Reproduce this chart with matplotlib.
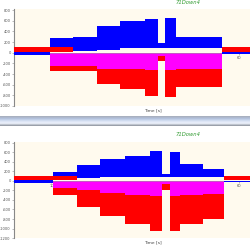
import matplotlib
matplotlib.use("Agg")
import matplotlib.pyplot as plt
import numpy as np

# segment edges (s) and envelope levels per segment
top_edges = [0, 9.6, 15.8, 22.2, 28.3, 35.0, 38.4, 40.3, 43.3, 55.5, 63]
top_blue_hi = [20, 270, 290, 500, 590, 640, 175, 650, 300, 10]
top_blue_lo = [-50, 40, 40, 60, 80, 80, 80, 80, 80, -20]
top_mag_lo = [-10, -250, -250, -300, -300, -330, -60, -330, -300, -10]
top_red_lo = [0, -340, -340, -580, -680, -810, -150, -830, -640, 0]
top_red_hi = [100, 100, 100, 0, 0, 0, 0, 0, 0, 100]

bot_edges = [0, 10.4, 16.8, 23.0, 29.6, 36.3, 39.5, 41.7, 44.3, 50.5, 56.1, 63]
bot_blue_hi = [20, 195, 345, 465, 520, 640, 150, 610, 360, 250, 10]
bot_blue_lo = [-40, 30, 60, 90, 90, 90, 90, 90, 90, 90, -20]
bot_mag_lo = [-10, -150, -200, -250, -300, -310, -60, -310, -300, -280, -10]
bot_red_lo = [0, -290, -545, -730, -900, -1050, -200, -1050, -900, -800, 0]
bot_red_hi = [100, 100, 100, 0, 0, 0, 0, 0, 0, 0, 100]

title = "71Down4"
xlabel = "Time [s]"
top_yticks = [800, 600, 400, 200, 0, -200, -400, -600, -800, -1000]
bot_yticks = [800, 600, 400, 200, 0, -200, -400, -600, -800, -1000, -1200]
xticks = [10, 20, 30, 40, 50, 60]


def step(vals):
    return list(vals) + [vals[-1]]


def draw(ax, edges, blue_hi, blue_lo, mag_lo, red_lo, red_hi, yticks):
    ax.set_facecolor("#fffaee")
    z = np.zeros(len(edges))
    ax.fill_between(edges, z, step(red_lo), step="post", color="#ff0000", lw=0, zorder=1)
    ax.fill_between(edges, z, step(mag_lo), step="post", color="#ff00ff", lw=0, zorder=2)
    ax.fill_between(edges, step(blue_lo), step(blue_hi), step="post", color="#0000ff", lw=0, zorder=3)
    ax.fill_between(edges, np.full(len(edges), 20), step(red_hi), step="post",
                    where=np.array(step(red_hi)) > 20, color="#ff0000", lw=0, zorder=4)
    ax.set_xlim(0, 63)
    ax.set_ylim(yticks[-1], yticks[0] + 20)
    ax.set_yticks(yticks)
    ax.set_yticklabels([str(v) for v in yticks])
    ax.set_xticks(xticks)
    ax.set_xticklabels([str(v) for v in xticks])
    ax.set_axisbelow(True)
    for s in ["top", "right"]:
        ax.spines[s].set_visible(False)
    ax.spines["bottom"].set_position(("data", 0))
    ax.spines["bottom"].set_color("#999999")
    ax.spines["bottom"].set_linewidth(0.4)
    ax.spines["left"].set_color("#888888")
    ax.spines["left"].set_linewidth(0.8)
    ax.tick_params(length=1.5, width=0.4, pad=0.8, colors="#888888",
                   labelsize=2.6, labelcolor="#555555")


fig = plt.figure(figsize=(2.5, 2.48), dpi=100)
fig.patch.set_facecolor("white")

ax1 = fig.add_axes([0.056, 0.5726, 0.944, 0.391])
draw(ax1, top_edges, top_blue_hi, top_blue_lo, top_mag_lo, top_red_lo, top_red_hi, top_yticks)
ax2 = fig.add_axes([0.056, 0.0403, 0.944, 0.387])
draw(ax2, bot_edges, bot_blue_hi, bot_blue_lo, bot_mag_lo, bot_red_lo, bot_red_hi, bot_yticks)

for ty, ly in [(0.988, 0.556), (0.456, 0.024)]:
    fig.text(0.752, ty, title, fontsize=3.8, color="#2f9a2f", style="italic",
             ha="center", va="center")
    fig.text(0.612, ly, xlabel, fontsize=3.2, color="#444444", ha="center", va="center")

# separator bar between the two panels
bar = fig.add_axes([0, 1 - 126 / 248, 1, 10 / 248])
grad = np.linspace(0, 1, 10)[:, None]
bar.imshow(grad, aspect="auto", cmap=matplotlib.colors.LinearSegmentedColormap.from_list(
    "sep", ["#a8b0c0", "#b4c4e0", "#d8e2f4", "#eef2fc", "#9aa0aa"]),
    extent=[0, 1, 0, 1])
bar.set_axis_off()

fig.savefig("out.png", dpi=100)
